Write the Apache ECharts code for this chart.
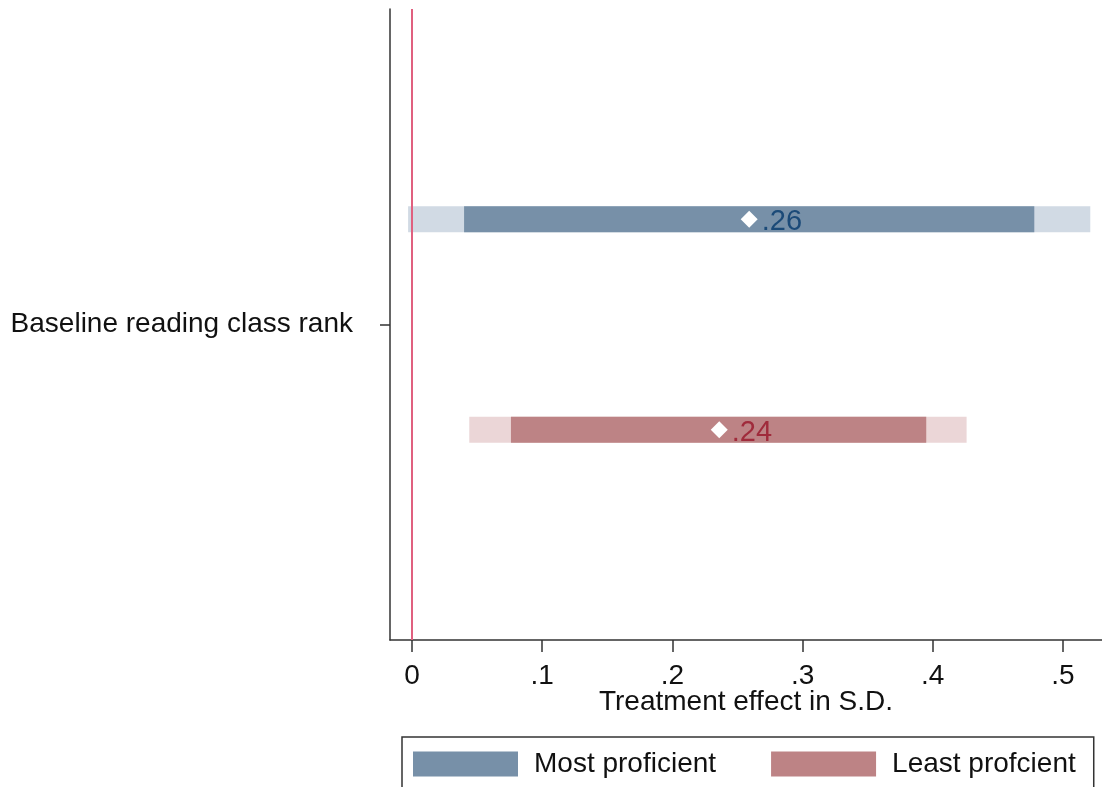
<!DOCTYPE html>
<html>
<head>
<meta charset="utf-8">
<script src="https://cdn.jsdelivr.net/npm/echarts@6/dist/echarts.min.js"></script>
<style>
  html, body { margin: 0; padding: 0; background: #fff; }
  #chart { width: 1102px; height: 787px; }
</style>
</head>
<body>
<div id="chart"></div>
<script>
const categories = ['Baseline reading class rank']
const groups = ['Most proficient', 'Least profcient']
const estimates = [0.259, 0.236]
const ci95Low = [-0.003, 0.044]
const ci95High = [0.521, 0.426]
const ci90Low = [0.040, 0.076]
const ci90High = [0.478, 0.395]
const xTicks = [0, 0.1, 0.2, 0.3, 0.4, 0.5]
const xTickLabels = ['0', '.1', '.2', '.3', '.4', '.5']

const darkColors = ['#7790a8', '#bd8385']
const lightColors = ['#d1dae4', '#ebd6d7']
const labelColors = ['#1b4a78', '#a02b3b']
const font = 'Liberation Sans, Arial, sans-serif'

// row i sits above / below the single category line
const rowY = i => 4 - 2 * i

const chart = echarts.init(document.getElementById('chart'))

const barSeries = groups.map((name, i) => ({
  name,
  type: 'custom',
  z: 3,
  itemStyle: { color: darkColors[i] },
  encode: { x: [0, 1, 2, 3], y: 5 },
  data: [[ci95Low[i], ci95High[i], ci90Low[i], ci90High[i], estimates[i], rowY(i)]],
  renderItem: (params, api) => {
    const y = api.value(5)
    const a = api.coord([api.value(0), y])
    const b = api.coord([api.value(1), y])
    const c = api.coord([api.value(2), y])
    const d = api.coord([api.value(3), y])
    const h = 26
    return {
      type: 'group',
      children: [
        { type: 'rect', shape: { x: a[0], y: a[1] - h / 2, width: b[0] - a[0], height: h }, style: { fill: lightColors[i] } },
        { type: 'rect', shape: { x: c[0], y: c[1] - h / 2, width: d[0] - c[0], height: h }, style: { fill: darkColors[i] } }
      ]
    }
  }
}))

const pointSeries = groups.map((name, i) => ({
  name: 'est' + i,
  type: 'scatter',
  z: 5,
  symbol: 'diamond',
  symbolSize: [17, 17],
  itemStyle: { color: '#ffffff', opacity: 1 },
  data: [[estimates[i], rowY(i)]],
  label: {
    show: true,
    position: 'right',
    distance: 4,
    offset: [0, 3],
    fontFamily: font,
    fontSize: 29,
    color: labelColors[i],
    formatter: p => p.value[0].toFixed(2).replace(/^0/, '')
  }
}))

const option = {
  animation: false,
  textStyle: { fontFamily: font },
  grid: { left: 390, right: 0, top: 9, bottom: 147 },
  xAxis: {
    type: 'value',
    min: -0.0169,
    max: 0.530,
    name: 'Treatment effect in S.D.',
    nameLocation: 'middle',
    nameGap: 48,
    nameMoveOverlap: false,
    nameTextStyle: { fontSize: 28, color: '#111', fontFamily: font },
    axisLine: { show: true, onZero: false, lineStyle: { color: '#333', width: 1.5 } },
    axisTick: { show: true, length: 12, customValues: xTicks, lineStyle: { color: '#333', width: 1.5 } },
    axisLabel: {
      customValues: xTicks,
      margin: 22,
      fontSize: 28,
      color: '#111',
      fontFamily: font,
      formatter: v => xTickLabels[xTicks.findIndex(t => Math.abs(t - v) < 1e-9)] ?? ''
    },
    splitLine: { show: false }
  },
  yAxis: {
    type: 'value',
    min: 0,
    max: 6,
    axisLine: { show: true, onZero: false, lineStyle: { color: '#333', width: 1.5 } },
    axisTick: { show: true, length: 10, customValues: [3], lineStyle: { color: '#333', width: 1.5 } },
    axisLabel: {
      customValues: [3],
      margin: 37,
      fontSize: 28,
      color: '#111',
      fontFamily: font,
      formatter: () => categories[0]
    },
    splitLine: { show: false }
  },
  legend: {
    data: groups.map((name, i) => ({ name, icon: 'rect', itemStyle: { color: darkColors[i] } })),
    left: 402,
    top: 737,
    orient: 'horizontal',
    itemWidth: 105,
    itemHeight: 25,
    itemGap: 55,
    padding: [13, 18, 13, 11],
    borderColor: '#333',
    borderWidth: 1.5,
    selectedMode: false,
    textStyle: { fontSize: 28, color: '#111', fontFamily: font, padding: [0, 0, 0, 11] }
  },
  series: [
    {
      type: 'line',
      z: 1,
      data: [],
      markLine: {
        silent: true,
        symbol: 'none',
        label: { show: false },
        lineStyle: { color: '#e0607f', width: 2, type: 'solid' },
        data: [{ xAxis: 0 }]
      }
    },
    ...barSeries,
    ...pointSeries
  ]
}

chart.setOption(option)
</script>
</body>
</html>
